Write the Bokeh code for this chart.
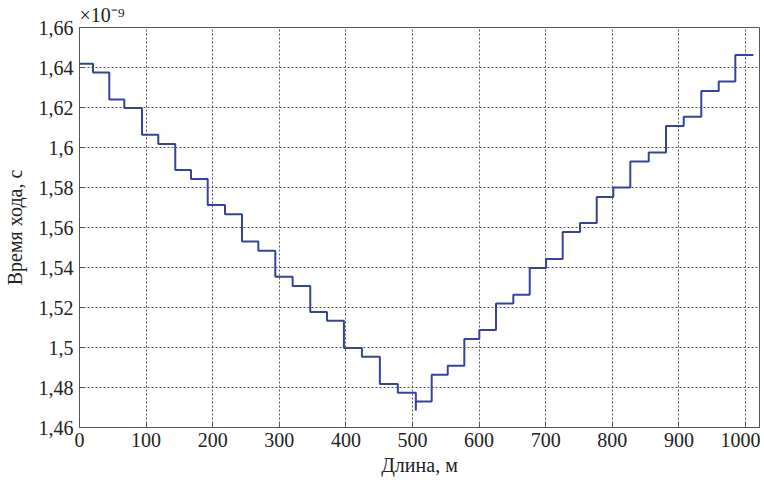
from bokeh.plotting import figure
from bokeh.models import Range1d, FixedTicker, CustomJSTickFormatter, Title
from bokeh.embed import file_html
from bokeh.resources import INLINE

# Step edges along the length (m) and travel time levels (x 1e-9 s)
length_m = [0, 20.3, 44.7, 67.3, 93.8, 118.3, 143.8, 167.4, 192.5, 218.5,
            244, 268.5, 294, 320, 346.5, 371.6, 397, 424, 451, 478,
            505, 505, 528.8, 552.9, 577.8, 600.3, 625.4, 651.4, 676, 700.5,
            725.5, 751.5, 776.6, 801.5, 827, 854.7, 880.6, 907.2, 933.6, 959.8,
            984.7, 1011.7]
travel_time = [1.6419, 1.6375, 1.624, 1.6197, 1.6064, 1.6017, 1.5887, 1.5842, 1.5712, 1.5666,
               1.553, 1.5484, 1.5354, 1.5307, 1.5178, 1.5134, 1.4998, 1.4954, 1.4818, 1.4774,
               1.4685, 1.473, 1.4864, 1.4909, 1.5042, 1.5087, 1.522, 1.5264, 1.5397, 1.5442,
               1.5578, 1.5622, 1.5753, 1.58, 1.593, 1.5975, 1.6107, 1.6154, 1.6283, 1.633,
               1.6462, 1.6462]

x_ticks = [0, 100, 200, 300, 400, 500, 600, 700, 800, 900, 1000]
y_ticks = [1.46, 1.48, 1.50, 1.52, 1.54, 1.56, 1.58, 1.60, 1.62, 1.64, 1.66]

FONT = "Liberation Serif"
TXT = "#222222"
AX = "#555555"

p = figure(width=760, height=478, output_backend="svg", toolbar_location=None,
           x_range=Range1d(0, 1021), y_range=Range1d(1.46, 1.66),
           min_border_left=78, min_border_right=1, min_border_top=26, min_border_bottom=51)

p.step(length_m, travel_time, mode="after", line_color="#34449a", line_width=2)

p.xaxis.ticker = FixedTicker(ticks=x_ticks)
p.yaxis.ticker = FixedTicker(ticks=y_ticks)
p.yaxis.formatter = CustomJSTickFormatter(
    code="return (Math.round(tick*100)/100).toString().replace('.', ',');")

for ax in (p.xaxis[0], p.yaxis[0]):
    ax.major_label_text_font = FONT
    ax.major_label_text_font_size = "20px"
    ax.major_label_text_color = TXT
    ax.axis_label_text_font = FONT
    ax.axis_label_text_font_size = "20px"
    ax.axis_label_text_font_style = "normal"
    ax.axis_label_text_color = TXT
    ax.axis_line_color = AX
    ax.major_tick_line_color = AX
    ax.major_tick_in = 5
    ax.major_tick_out = 0
    ax.minor_tick_line_color = None

p.xaxis.axis_label = "Длина, м"
p.yaxis.axis_label = "Время хода, с"
p.xaxis.major_label_standoff = 5
p.xaxis.axis_label_standoff = 4
p.yaxis.major_label_standoff = 6
p.yaxis.axis_label_standoff = 10

p.xgrid.grid_line_color = "#555555"
p.ygrid.grid_line_color = "#555555"
p.xgrid.grid_line_dash = "2 2"
p.ygrid.grid_line_dash = "2 2"
p.xgrid.grid_line_width = 1
p.ygrid.grid_line_width = 1

p.outline_line_color = AX
p.outline_line_width = 1
p.background_fill_color = "white"
p.border_fill_color = "white"

p.add_layout(Title(text="×10⁻⁹", align="left", offset=0, standoff=3,
                   text_font=FONT, text_font_size="20px", text_font_style="normal",
                   text_color=TXT), "above")

open("out.html", "w").write(file_html(p, INLINE))
